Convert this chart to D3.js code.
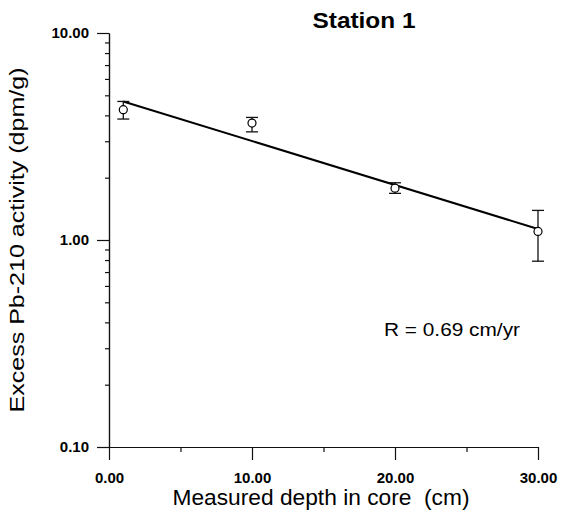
<!DOCTYPE html>
<meta charset="utf-8">
<html>
<head>
<style>
    body { margin: 0; background: #fff; }
    svg text { font-family: "Liberation Sans", Arial, Helvetica, sans-serif; fill: #000; }
    .axis path, .axis line { stroke: #111; stroke-width: 1.2px; }
    .axis text { font-size: 15px; font-weight: bold; }
</style>
</head>
<body>
<svg width="561" height="516"></svg>
<script src="https://cdn.jsdelivr.net/npm/d3@7"></script>
<script>

    // measured points (depth in cm, excess Pb-210 in dpm/g)
    var depth = [1, 10, 20, 30];
    var activity = [4.26, 3.67, 1.78, 1.10];
    var errLow = [3.84, 3.33, 1.68, 0.79];
    var errHigh = [4.67, 3.91, 1.89, 1.39];

    // fitted line end points
    var fitDepth = [1, 30];
    var fitActivity = [4.67, 1.13];

    var xMajor = [0, 10, 20, 30];
    var xMinor = [5, 15, 25];
    var yMajor = [0.1, 1, 10];
    var yMinor = [0.2, 0.3, 0.4, 0.5, 0.6, 0.7, 0.8, 0.9, 2, 3, 4, 5, 6, 7, 8, 9];

    var svg = d3.select("svg");

    var x = d3.scaleLinear().domain([0, 30]).range([109, 538]);
    var y = d3.scaleLog().domain([0.1, 10]).range([447, 33]);

    var fmt = d3.format(".2f");

    // x axis
    svg.append("g")
        .attr("class", "axis")
        .attr("transform", "translate(0,447)")
        .call(d3.axisBottom(x).tickValues(xMajor).tickSize(13).tickSizeOuter(0)
            .tickPadding(12).tickFormat(fmt));
    svg.append("g")
        .attr("class", "axis")
        .attr("transform", "translate(0,447)")
        .call(d3.axisBottom(x).tickValues(xMinor).tickSize(5).tickSizeOuter(0).tickFormat(""));

    // y axis
    svg.append("g")
        .attr("class", "axis")
        .attr("transform", "translate(109,0)")
        .call(d3.axisLeft(y).tickValues(yMajor).tickSize(12).tickSizeOuter(0)
            .tickPadding(8).tickFormat(fmt));
    svg.append("g")
        .attr("class", "axis")
        .attr("transform", "translate(109,0)")
        .call(d3.axisLeft(y).tickValues(yMinor).tickSize(4).tickSizeOuter(0).tickFormat(""));

    // fit line
    var line = d3.line()
        .x(function(d, i) { return x(fitDepth[i]); })
        .y(function(d) { return y(d); });

    svg.append("path")
        .datum(fitActivity)
        .attr("d", line)
        .attr("fill", "none")
        .attr("stroke", "#000")
        .attr("stroke-width", 2);

    // error bars
    var bars = svg.append("g")
        .selectAll("g")
        .data(depth)
        .enter().append("g")
        .attr("stroke", "#111")
        .attr("stroke-width", 1.3);

    bars.append("line")
        .attr("x1", function(d) { return x(d); })
        .attr("x2", function(d) { return x(d); })
        .attr("y1", function(d, i) { return y(errLow[i]); })
        .attr("y2", function(d, i) { return y(errHigh[i]); });
    bars.append("line")
        .attr("x1", function(d) { return x(d) - 6; })
        .attr("x2", function(d) { return x(d) + 6; })
        .attr("y1", function(d, i) { return y(errLow[i]); })
        .attr("y2", function(d, i) { return y(errLow[i]); });
    bars.append("line")
        .attr("x1", function(d) { return x(d) - 6; })
        .attr("x2", function(d) { return x(d) + 6; })
        .attr("y1", function(d, i) { return y(errHigh[i]); })
        .attr("y2", function(d, i) { return y(errHigh[i]); });

    // points
    svg.append("g")
        .selectAll("circle")
        .data(depth)
        .enter().append("circle")
        .attr("cx", function(d) { return x(d); })
        .attr("cy", function(d, i) { return y(activity[i]); })
        .attr("r", 4)
        .attr("fill", "#fff")
        .attr("stroke", "#000")
        .attr("stroke-width", 1.2);

    // titles (the scan is a bit wide, so stretch text to its length)
    svg.append("text")
        .attr("x", 364)
        .attr("y", 28)
        .attr("text-anchor", "middle")
        .attr("textLength", 103)
        .attr("lengthAdjust", "spacingAndGlyphs")
        .style("font-size", "22px")
        .style("font-weight", "bold")
        .text("Station 1");

    svg.append("text")
        .attr("x", 321)
        .attr("y", 505)
        .attr("text-anchor", "middle")
        .attr("textLength", 297)
        .attr("lengthAdjust", "spacingAndGlyphs")
        .style("font-size", "22px")
        .style("white-space", "pre")
        .text("Measured depth in core  (cm)");

    svg.append("text")
        .attr("transform", "translate(24,240) rotate(-90)")
        .attr("text-anchor", "middle")
        .attr("textLength", 345)
        .attr("lengthAdjust", "spacingAndGlyphs")
        .style("font-size", "20px")
        .text("Excess Pb-210 activity (dpm/g)");

    svg.append("text")
        .attr("x", 384)
        .attr("y", 336)
        .attr("textLength", 136)
        .attr("lengthAdjust", "spacingAndGlyphs")
        .style("font-size", "18px")
        .text("R = 0.69 cm/yr");

</script>
</body>
</html>
